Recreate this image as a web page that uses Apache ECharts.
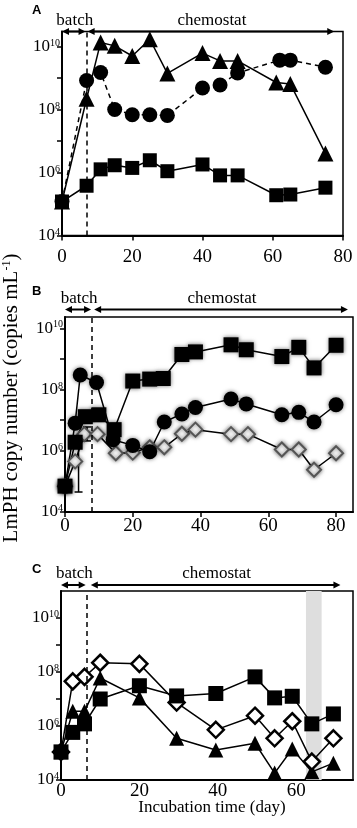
<!DOCTYPE html>
<html>
<head>
<meta charset="utf-8">
<script src="https://cdn.jsdelivr.net/npm/echarts@6/dist/echarts.min.js"></script>
<style>
  html, body { margin: 0; padding: 0; background: #fff; }
  #chart { width: 357px; height: 828px; }
</style>
</head>
<body>
<div id="chart"></div>
<script>
// ---- panel A ----
const aDays = [0, 7, 11, 15, 20, 25, 30, 40, 45, 50, 61, 65, 75];
const aCircleDays = [0, 7, 11, 15, 20, 25, 30, 40, 45, 50, 62, 65, 75];
const aTriangle = [1.2e5, 2.2e8, 1.35e10, 1.05e10, 5e9, 1.7e10, 1.4e9, 6.2e9, 3.5e9, 3.5e9, 7.2e8, 6.5e8, 4e6];
const aCircle = [1.2e5, 8.3e8, 1.5e9, 1e8, 6.8e7, 6.8e7, 6.5e7, 4.8e8, 6e8, 1.45e9, 3.7e9, 3.7e9, 2.2e9];
const aSquare = [1.2e5, 3.8e5, 1.26e6, 1.7e6, 1.4e6, 2.45e6, 1.1e6, 1.8e6, 8.1e5, 8.1e5, 1.9e5, 2e5, 3.3e5];

// ---- panel B ----
const bSquareDays = [0, 3, 6, 10, 14.5, 20, 25, 29, 34.5, 38.5, 49, 53.5, 64, 69, 73.5, 80];
const bSquare = [7e4, 1.9e6, 1.3e7, 1.5e7, 4.9e6, 1.9e8, 2.2e8, 2.3e8, 1.4e9, 1.7e9, 2.9e9, 2e9, 1.2e9, 2.4e9, 5.1e8, 2.8e9];
const bCircleDays = [0, 3, 4.5, 9.3, 14.2, 20, 25, 29.3, 34.5, 38.5, 49, 53.5, 64, 69, 73.5, 80];
const bCircle = [7e4, 8e6, 3e8, 1.7e8, 2.3e6, 1.5e6, 9.3e5, 8.7e6, 1.6e7, 2.6e7, 4.9e7, 3.4e7, 1.5e7, 1.8e7, 8.7e6, 3.2e7];
const bDiamondDays = [0, 3, 5.7, 9.6, 15, 20, 25, 29.3, 34.5, 38.5, 49, 54, 64, 69, 73.5, 80];
const bDiamond = [7e4, 4.5e5, 3.5e6, 3.5e6, 8.3e5, 8.7e5, 1.3e6, 1.3e6, 3.6e6, 4.9e6, 3.5e6, 3.5e6, 1.1e6, 1.1e6, 2.4e5, 8.3e5];
// error bars [day, low, high]
const bErrors = [[4, 4.5e4, 2e6], [6.5, 2.1e6, 6e6]];

// ---- panel C ----
const cDays = [0, 3, 6, 10, 20, 29.5, 39.5, 49.5, 54.5, 59, 64, 69.5];
const cSquare = [1.1e5, 5.8e5, 1.2e6, 1e7, 3.1e7, 1.3e7, 1.6e7, 6.6e7, 1.1e7, 1.26e7, 1.2e6, 2.8e6];
const cDiamond = [1.1e5, 4.5e7, 6.6e7, 2.2e8, 2e8, 7.4e6, 7.2e5, 2.4e6, 3.5e5, 1.5e6, 4.8e4, 3.5e5];
const cTriangle = [1.1e5, 3.5e6, 3.5e6, 6e7, 1.1e7, 3.5e5, 1.3e5, 2.3e5, 1.8e4, 1.4e5, 2e4, 4.2e4];
const cShade = [62.5, 66.5];

// x ticks, y ticks, batch/chemostat switch
const xTicksAB = [0, 20, 40, 60, 80];
const xTicksC = [0, 20, 40, 60];
const yTicks = [1e4, 1e5, 1e6, 1e7, 1e8, 1e9, 1e10];
const yLabels = [1e4, 1e6, 1e8, 1e10];
const batchEnd = [7, 8, 6.5];

const serif = 'Liberation Serif';
const zip = (xs, ys) => xs.map((x, i) => [x, ys[i]]);

const grids = [
  { left: 62, top: 31.5, width: 281, height: 204 },
  { left: 65, top: 317, width: 288, height: 195 },
  { left: 61, top: 591, width: 292, height: 189 }
];
const yMax = [3e10, 2.35e10, 1e11];
const xMax = [80, 85, 74.5];
const xLabelMargin = [12, 5, 2];

const xAxes = grids.map((g, i) => ({
  gridIndex: i,
  type: 'value',
  min: 0,
  max: xMax[i],
  splitLine: { show: false },
  axisLine: { lineStyle: { color: '#000', width: 2 } },
  axisTick: {
    show: i < 2,
    length: 5,
    lineStyle: { color: '#000', width: 1.5 },
    customValues: i < 2 ? xTicksAB : xTicksC
  },
  axisLabel: {
    customValues: i < 2 ? xTicksAB : xTicksC,
    color: '#000',
    fontFamily: serif,
    fontSize: 19,
    margin: xLabelMargin[i]
  }
}));

const yAxes = grids.map((g, i) => ({
  gridIndex: i,
  type: 'log',
  logBase: 10,
  min: 1e4,
  max: yMax[i],
  splitLine: { show: false },
  axisLine: { show: true, lineStyle: { color: '#000', width: 2 } },
  axisTick: { length: 5, lineStyle: { color: '#000', width: 1.5 }, customValues: yTicks },
  axisLabel: {
    customValues: yLabels,
    margin: 2,
    formatter: v => '{b|10}{s|' + Math.round(Math.log10(v)) + '}',
    rich: {
      b: { fontFamily: serif, fontSize: 17, color: '#000', lineHeight: 17 },
      s: { fontFamily: serif, fontSize: 10, color: '#000', verticalAlign: 'top', lineHeight: 10 }
    }
  }
}));

const base = (i, data, symbol, size, extra) => Object.assign({
  type: 'line',
  xAxisIndex: i,
  yAxisIndex: i,
  data: data,
  symbol: symbol,
  symbolSize: size,
  showAllSymbol: true,
  z: 3,
  lineStyle: { color: '#000', width: 1.5 },
  itemStyle: { color: '#000', borderColor: '#000', borderWidth: 0 }
}, extra || {});

const dashMark = i => ({
  silent: true,
  symbol: 'none',
  label: { show: false },
  lineStyle: { color: '#000', type: [5, 4], width: 1.5 },
  data: [{ xAxis: batchEnd[i] }]
});

const blur = { shadowBlur: 4, shadowColor: 'rgba(0,0,0,0.55)' };

const series = [
  // A
  base(0, zip(aDays, aTriangle), 'triangle', 16, { markLine: dashMark(0) }),
  base(0, zip(aCircleDays, aCircle), 'circle', 15, { lineStyle: { color: '#000', width: 1.5, type: [5, 4] } }),
  base(0, zip(aDays, aSquare), 'rect', 14),
  // B
  {
    type: 'custom',
    xAxisIndex: 1,
    yAxisIndex: 1,
    z: 2,
    data: bErrors,
    encode: { x: 0, y: [1, 2] },
    renderItem: (params, api) => {
      const lo = api.coord([api.value(0), api.value(1)]);
      const hi = api.coord([api.value(0), api.value(2)]);
      const st = { stroke: '#000', lineWidth: 1.5 };
      return {
        type: 'group',
        children: [
          { type: 'line', shape: { x1: lo[0], y1: lo[1], x2: hi[0], y2: hi[1] }, style: st },
          { type: 'line', shape: { x1: lo[0] - 4, y1: lo[1], x2: lo[0] + 4, y2: lo[1] }, style: st },
          { type: 'line', shape: { x1: hi[0] - 4, y1: hi[1], x2: hi[0] + 4, y2: hi[1] }, style: st }
        ]
      };
    }
  },
  base(1, zip(bDiamondDays, bDiamond), 'diamond', 14, {
    markLine: dashMark(1),
    itemStyle: Object.assign({ color: '#fff', borderColor: '#555', borderWidth: 2 }, blur)
  }),
  base(1, zip(bCircleDays, bCircle), 'circle', 15, { itemStyle: Object.assign({ color: '#000' }, blur) }),
  base(1, zip(bSquareDays, bSquare), 'rect', 15, { itemStyle: Object.assign({ color: '#000' }, blur) }),
  // C: grey band on its own empty series so it stays behind the lines
  {
    type: 'line',
    xAxisIndex: 2,
    yAxisIndex: 2,
    data: [],
    z: 1,
    markArea: {
      silent: true,
      itemStyle: { color: '#dedede' },
      data: [[{ xAxis: cShade[0] }, { xAxis: cShade[1] }]]
    }
  },
  base(2, zip(cDays, cTriangle), 'triangle', 15, { markLine: dashMark(2) }),
  base(2, zip(cDays, cDiamond), 'diamond', 16, { itemStyle: { color: '#fff', borderColor: '#000', borderWidth: 2.5 } }),
  base(2, zip(cDays, cSquare), 'rect', 15)
];

const option = {
  animation: false,
  backgroundColor: '#fff',
  grid: grids.map(g => Object.assign({ show: true, borderColor: '#000', borderWidth: 1.5, backgroundColor: 'transparent' }, g)),
  xAxis: xAxes,
  yAxis: yAxes,
  series: series
};

const chart = echarts.init(document.getElementById('chart'));
chart.setOption(option);

// annotations: panel letters, batch/chemostat arrows, axis titles
const arrowY = [31.5, 309.5, 585];
const arrowEnd = [[0, 6.7, 7.3, 77.5], [0, 7.7, 8.6, 83.5], [0, 6.3, 7.6, 71.3]];
const letterY = [4, 285, 563];
const graphics = [];
const txt = (x, y, text, size, extra) => Object.assign({
  type: 'text', x: x, y: y, silent: true,
  style: { text: text, fontFamily: serif, fontSize: size, fill: '#000', align: 'center', verticalAlign: 'middle' }
}, extra || {});

const arrowHead = (x, y, dir) => ({
  type: 'polygon', silent: true,
  shape: { points: [[x, y], [x - dir * 7, y - 3.5], [x - dir * 7, y + 3.5]] },
  style: { fill: '#000' }
});

[0, 1, 2].forEach(i => {
  const p = arrowEnd[i].map(d => chart.convertToPixel({ xAxisIndex: i }, d));
  const y = arrowY[i];
  [[p[0], p[1]], [p[2], p[3]]].forEach(seg => {
    graphics.push({ type: 'line', silent: true, shape: { x1: seg[0] + 3, y1: y, x2: seg[1] - 3, y2: y }, style: { stroke: '#000', lineWidth: 2 } });
    graphics.push(arrowHead(seg[0], y, -1));
    graphics.push(arrowHead(seg[1], y, 1));
  });
  graphics.push(txt((p[0] + p[1]) / 2 + 1, y - 11, 'batch', 17));
  graphics.push(txt((p[2] + p[3]) / 2 + 1, y - 11, 'chemostat', 17));
  graphics.push({
    type: 'text', x: 32, y: letterY[i], silent: true,
    style: { text: ['A', 'B', 'C'][i], fontFamily: 'Liberation Sans', fontWeight: 'bold', fontSize: 13, fill: '#000' }
  });
});

graphics.push(txt(212, 808, 'Incubation time (day)', 17));
graphics.push({
  type: 'text', x: 11, y: 398, rotation: Math.PI / 2, silent: true,
  style: {
    text: '{t|LmPH copy number (copies mL}{s|-1}{t|)}',
    align: 'center', verticalAlign: 'middle',
    rich: {
      t: { fontFamily: serif, fontSize: 21, fill: '#000', lineHeight: 21 },
      s: { fontFamily: serif, fontSize: 12, fill: '#000', verticalAlign: 'top', lineHeight: 12 }
    }
  }
});

chart.setOption({ graphic: graphics });
window.addEventListener('resize', () => chart.resize());
</script>
</body>
</html>
